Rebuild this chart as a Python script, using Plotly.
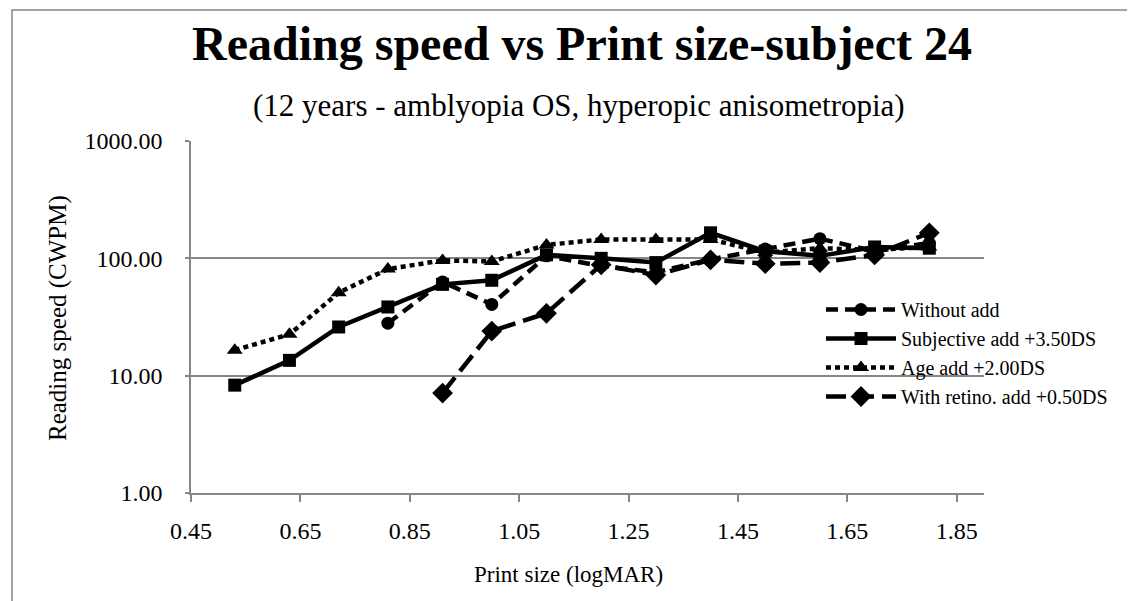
import plotly.graph_objects as go

# print size (logMAR) for each measured line
print_size = [0.53, 0.63, 0.72, 0.81, 0.91, 1.0, 1.1, 1.2, 1.3, 1.4, 1.5, 1.6, 1.7, 1.8]

# reading speed (CWPM) per condition; None = not measured
without_add = [None, None, None, 28, 63, 40.5, 105, 86, 76, 98, 120, 147, 115, 135]
subjective_add = [8.3, 13.5, 26, 38.5, 60, 65, 107, 100, 92, 165, 115, 105, 125, 122]
age_add = [16.5, 22.5, 51, 81, 96, 94, 130, 145, 145, 145, 112, 122, 118, 125]
retino_add = [None, None, None, None, 7.1, 24, 34, 88, 72, 97, 90, 92, 107, 165]

names = ["Without add", "Subjective add +3.50DS", "Age add +2.00DS", "With retino. add +0.50DS"]

FONT = "Liberation Serif"
GRID = "#868686"

# plot area in pixels (used to place titles and the chart border)
L, R, T, B = 183, 976, 133, 485
W, H = R - L, B - T


def px_x(p):
    return (p - L) / W


def px_y(p):
    return (B - p) / H


fig = go.Figure()

styles = [
    (without_add, dict(dash="12px,7px"), dict(symbol="circle", size=13)),
    (subjective_add, dict(dash="solid"), dict(symbol="square", size=13)),
    (age_add, dict(dash="5px,4px"), dict(symbol="triangle-up", size=14)),
    (retino_add, dict(dash="20px,8px"), dict(symbol="diamond", size=16)),
]

for name, (vals, line, marker) in zip(names, styles):
    fig.add_trace(go.Scatter(
        x=print_size, y=vals, name=name, mode="lines+markers",
        line=dict(color="black", width=4.5, **line),
        marker=dict(color="black", **marker),
        connectgaps=False,
    ))

fig.update_layout(
    width=1135, height=601,
    margin=dict(l=L, r=1135 - R, t=T, b=601 - B),
    paper_bgcolor="white", plot_bgcolor="white",
    font=dict(family=FONT, color="black", size=24),
    showlegend=True,
    legend=dict(
        x=px_x(813), y=px_y(282), xanchor="left", yanchor="top",
        font=dict(family=FONT, size=20, color="black"),
        bgcolor="rgba(0,0,0,0)", tracegroupgap=0, itemwidth=70,
    ),
    xaxis=dict(
        range=[0.45, 1.9], tick0=0.45, dtick=0.2, tickformat=".2f",
        showgrid=False, zeroline=False,
        showline=True, linecolor=GRID, linewidth=1.5,
        ticks="outside", ticklen=7, tickcolor=GRID, tickwidth=1.5,
        tickfont=dict(size=24), ticklabelstandoff=8,
    ),
    yaxis=dict(
        type="log", range=[0, 3], tickvals=[1, 10, 100, 1000], tickformat=".2f",
        showgrid=True, gridcolor=GRID, gridwidth=1.5, zeroline=False,
        showline=True, linecolor=GRID, linewidth=1.5,
        ticks="outside", ticklen=4, tickcolor=GRID, tickwidth=1.5,
        tickfont=dict(size=24), ticklabelstandoff=18,
    ),
    annotations=[
        dict(text="<b>Reading speed vs Print size-subject 24</b>", xref="paper", yref="paper",
             x=px_x(574), y=px_y(35), xanchor="center", yanchor="middle", showarrow=False,
             font=dict(family=FONT, size=48, color="black")),
        dict(text="(12 years - amblyopia OS, hyperopic anisometropia)", xref="paper", yref="paper",
             x=px_x(571), y=px_y(97), xanchor="center", yanchor="middle", showarrow=False,
             font=dict(family=FONT, size=31, color="black")),
        dict(text="Print size (logMAR)", xref="paper", yref="paper",
             x=px_x(560), y=px_y(566), xanchor="center", yanchor="middle", showarrow=False,
             font=dict(family=FONT, size=23, color="black")),
        dict(text="Reading speed (CWPM)", xref="paper", yref="paper", textangle=-90,
             x=px_x(50), y=px_y(310), xanchor="center", yanchor="middle", showarrow=False,
             font=dict(family=FONT, size=25, color="black")),
    ],
    shapes=[
        dict(type="rect", xref="paper", yref="paper",
             x0=px_x(4), x1=px_x(1134), y0=px_y(605), y1=px_y(2),
             line=dict(color=GRID, width=1.5), layer="below"),
    ],
)

fig.write_html("out.html")
